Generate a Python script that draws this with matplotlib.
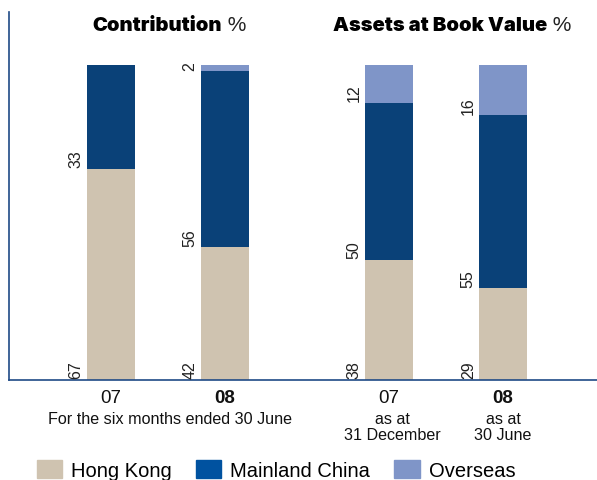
import matplotlib
matplotlib.use("Agg")
import matplotlib.pyplot as plt
from matplotlib.patches import Patch
import numpy as np

plt.rcParams['font.family'] = ['Liberation Sans', 'DejaVu Sans']

# data
periods = ['07', '08', '07', '08']
hong_kong = [67, 42, 38, 29]
mainland = [33, 56, 50, 55]
overseas = [0, 2, 12, 16]
series_names = ['Hong Kong', 'Mainland China', 'Overseas']
group_titles = ['Contribution', 'Assets at Book Value']
sub_labels = ['For the six months ended 30 June', 'as at\n31 December', 'as at\n30 June']

c_hk = '#cfc3b0'
c_mc = '#0a4178'
c_mc_leg = '#0052a0'
c_os = '#7f95c8'
c_axis = '#1f4a86'

x = np.array([0, 1, 2.44, 3.44])
w = 0.42

fig = plt.figure(figsize=(5.97, 4.81), dpi=100)
ax = fig.add_axes([9 / 597, 1 - 380.5 / 481, 1 - 9 / 597, (380.5 - 13) / 481])

hk = np.array(hong_kong)
mc = np.array(mainland)
os_ = np.array(overseas)
ax.bar(x, hk, w, color=c_hk)
ax.bar(x, mc, w, bottom=hk, color=c_mc)
ax.bar(x, os_, w, bottom=hk + mc, color=c_os)

# segment value labels, rotated, to the left of each bar
lab_x = x - w / 2 - 0.03
for i in range(len(x)):
    segs = [(0, hong_kong[i]), (hong_kong[i], mainland[i]),
            (hong_kong[i] + mainland[i], overseas[i])]
    for bottom, val in segs:
        if val == 0:
            continue
        ax.text(lab_x[i], bottom + 0.5, str(val), rotation=90, ha='right',
                va='bottom', fontsize=11.5, color='#222222')

ax.set_xlim(-0.895, 4.263)
ax.set_ylim(0, 116.9)

for s in ['top', 'right']:
    ax.spines[s].set_visible(False)
ax.spines['left'].set_color(c_axis)
ax.spines['bottom'].set_color(c_axis)
ax.spines['left'].set_linewidth(1.2)
ax.spines['bottom'].set_linewidth(1.2)
ax.set_yticks([])
ax.set_xticks(x)
ax.set_xticklabels(periods, fontsize=13.5, color='#111111')
ax.tick_params(axis='x', length=0, pad=6.5)
for lbl, p in zip(ax.get_xticklabels(), periods):
    if p == '08':
        lbl.set_fontweight('bold')

# sub labels under tick labels
ax.text((x[0] + x[1]) / 2 + 0.02, -10, sub_labels[0], ha='center', va='top',
        fontsize=11.6, color='#111111')
ax.text(x[2] + 0.03, -10, sub_labels[1], ha='center', va='top', fontsize=11.6,
        color='#111111', linespacing=1.1)
ax.text(x[3], -10, sub_labels[2], ha='center', va='top', fontsize=11.6,
        color='#111111', linespacing=1.1)

# group titles: bold name followed by regular %
for title, right in zip(group_titles, [0.974, 3.825]):
    t = ax.text(right, 111.2, title, ha='right', va='baseline', fontsize=14.5,
                family=['Inter', 'Liberation Sans'], fontweight='black',
                color='black')
    ax.annotate(' %', xy=(1, 0), xycoords=t, ha='left', va='bottom',
                fontsize=15, color='#222222')

handles = [Patch(color=c_hk), Patch(color=c_mc_leg), Patch(color=c_os)]
fig.legend(handles, series_names, loc='upper left', ncol=3, frameon=False,
           bbox_to_anchor=(37 / 597, 1 - 461.5 / 481), borderpad=0,
           borderaxespad=0, fontsize=14.5, handlelength=1.25, handleheight=0.95,
           handletextpad=0.45, columnspacing=1.2)

fig.savefig('out.png', dpi=100)
